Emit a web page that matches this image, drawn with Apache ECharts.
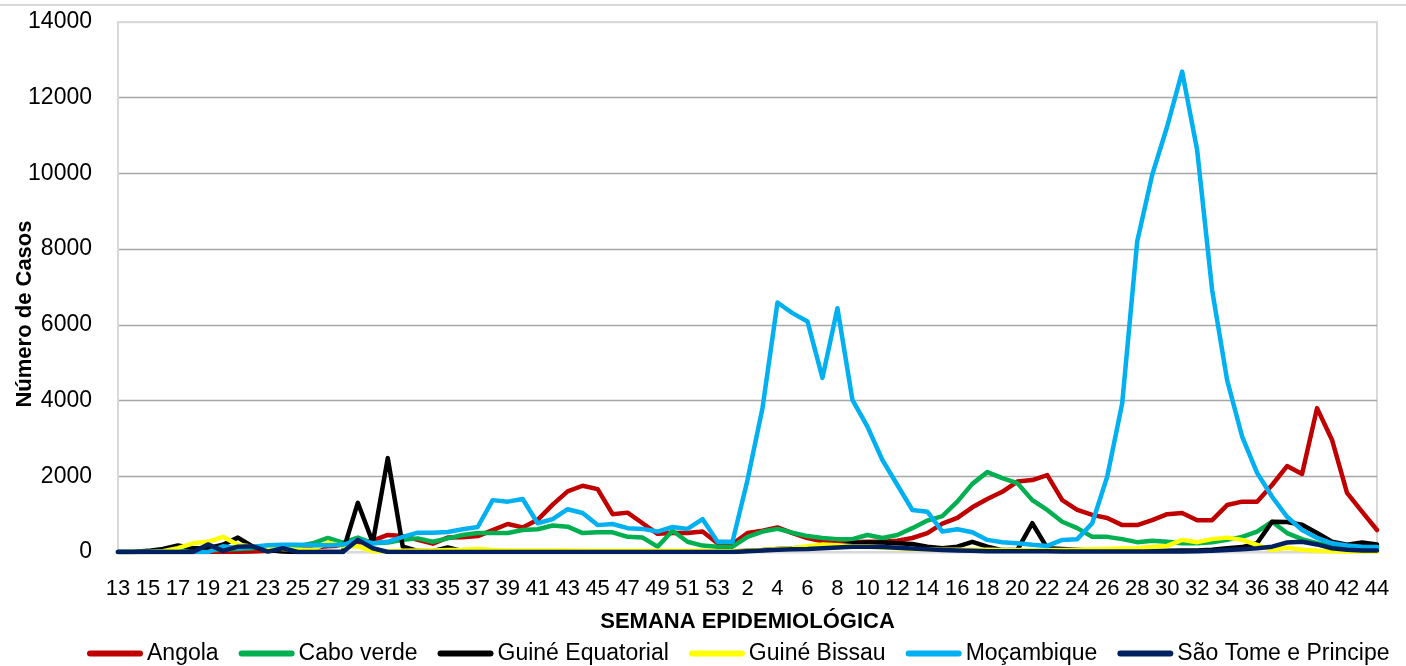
<!DOCTYPE html>
<html>
<head>
<meta charset="utf-8">
<script src="https://cdn.jsdelivr.net/npm/echarts@6/dist/echarts.min.js"></script>
<style>
html,body{margin:0;padding:0;background:#fff;}
#chart{width:1406px;height:666px;}
</style>
</head>
<body>
<div id="chart"></div>
<script>
const weeks2020 = ['13','14','15','16','17','18','19','20','21','22','23','24','25','26','27','28','29','30','31','32','33','34','35','36','37','38','39','40','41','42','43','44','45','46','47','48','49','50','51','52','53'];
const weeks2021 = ['1','2','3','4','5','6','7','8','9','10','11','12','13','14','15','16','17','18','19','20','21','22','23','24','25','26','27','28','29','30','31','32','33','34','35','36','37','38','39','40','41','42','43','44'];
const categories = weeks2020.concat(weeks2021);

const angola = [
  0,0,0,0,0,0,0,0,5,10,30,60,100,120,150,170,250,300,450,420,320,220,380,390,420,580,740,650,850,1250,1600,1750,1660,1000,1040,760,480,500,500,540,230,
  210,500,560,650,500,370,280,230,260,270,270,300,370,500,750,900,1180,1400,1590,1860,1900,2030,1370,1110,980,900,710,710,840,1000,1030,840,840,1240,1330,1330,1770,2270,2060,3800,2960,1560,1065,580
];
const caboVerde = [
  0,0,10,10,20,30,40,60,80,100,150,150,150,230,370,250,380,230,250,320,360,270,360,450,500,500,500,580,600,700,670,500,520,520,400,380,140,560,270,170,140,
  140,400,540,610,510,420,370,340,340,450,370,450,630,830,950,1330,1800,2110,1950,1820,1370,1110,800,630,400,400,340,260,300,270,230,230,260,320,400,540,800,500,340,230,160,120,100,80
];
const guineEquatorial = [
  0,0,30,80,170,100,100,190,380,140,50,10,0,0,0,0,1300,250,2480,140,30,20,120,20,20,10,10,10,10,10,10,10,10,10,10,10,10,10,10,10,10,
  10,30,50,80,100,120,130,150,230,250,250,230,210,140,100,140,270,140,50,50,760,100,80,60,40,30,30,30,30,30,40,40,60,100,130,230,800,790,720,500,270,190,250,200
];
const guineBissau = [
  0,0,0,20,100,230,270,400,190,140,100,80,60,60,250,150,150,20,20,30,40,40,50,60,80,50,40,40,40,40,40,30,30,30,30,30,30,30,30,30,20,
  20,30,50,80,100,150,200,180,150,150,120,100,80,70,60,60,60,60,50,50,50,50,50,60,70,80,90,100,130,160,320,260,340,380,320,190,50,110,60,30,20,10,10,10
];
const mocambique = [
  0,0,0,0,0,0,0,150,100,140,180,190,190,180,180,190,320,230,270,400,510,510,530,600,660,1370,1330,1400,760,870,1130,1030,710,740,630,610,540,660,610,870,270,
  270,1900,3800,6590,6310,6090,4600,6440,4020,3310,2430,1770,1110,1065,540,600,520,320,260,230,190,160,320,340,760,1990,3930,8200,9960,11240,12690,10620,6920,4540,3050,2090,1460,930,580,370,230,170,140,130
];
const saoTome = [
  0,0,0,0,0,0,200,30,140,150,10,100,0,0,0,0,320,100,0,0,0,0,0,0,0,0,0,0,0,0,0,0,0,0,0,0,0,0,0,0,0,
  0,20,40,60,70,80,100,120,140,140,130,110,90,70,50,40,30,20,20,20,20,20,10,10,10,10,10,10,10,10,10,20,30,50,70,100,140,250,270,200,100,60,40,40
];

const seriesNames = ['Angola','Cabo verde','Guiné Equatorial','Guiné Bissau','Moçambique','São Tome e Principe'];
const seriesData = [angola, caboVerde, guineEquatorial, guineBissau, mocambique, saoTome];
const seriesColors = ['#C00000','#00B050','#000000','#FFFF00','#00B0F0','#002060'];

const FONT = '"Liberation Sans", Arial, sans-serif';

const chart = echarts.init(document.getElementById('chart'), null, {renderer:'canvas'});
chart.setOption({
  animation: false,
  backgroundColor: '#ffffff',
  color: seriesColors,
  grid: {left:118, right:29, top:22, bottom:114, show:true, borderColor:'#d9d9d9', borderWidth:2, backgroundColor:'transparent'},
  legend: {
    left: 82, top: 637,
    itemWidth: 56, itemHeight: 6, itemGap: 20,
    icon: 'path://M3,0 L53,0 A3,3 0 0 1 53,6 L3,6 A3,3 0 0 1 3,0 Z',
    textStyle: {fontFamily: FONT, fontSize: 23, color: '#000', padding:[0,0,0,-1]},
    data: seriesNames
  },
  xAxis: {
    type: 'category',
    data: categories,
    boundaryGap: false,
    name: 'SEMANA EPIDEMIOLÓGICA',
    nameLocation: 'middle',
    nameGap: 59,
    nameTextStyle: {fontFamily: FONT, fontSize: 22, fontWeight: 'bold', color: '#000'},
    axisLine: {show:true, lineStyle:{color:'#d9d9d9', width:2}},
    axisTick: {show:false},
    axisLabel: {interval: 1, fontFamily: FONT, fontSize: 22, color: '#000', margin: 26},
    splitLine: {show:false}
  },
  yAxis: {
    type: 'value',
    min: 0, max: 14000, interval: 2000,
    axisLine: {show:true, lineStyle:{color:'#d9d9d9', width:2}},
    axisTick: {show:false},
    axisLabel: {fontFamily: FONT, fontSize: 23, color: '#000', margin: 26, formatter: v => String(v)},
    splitLine: {show:true, lineStyle:{color:['#a6a6a6','#a6a6a6','#a6a6a6','#a6a6a6','#a6a6a6','#a6a6a6','#a6a6a6','#d9d9d9'], width:1.3}}
  },
  graphic: [
    {type:'line', shape:{x1:0, y1:5, x2:1406, y2:5}, style:{stroke:'#d9d9d9', lineWidth:2}, silent:true},
    {type:'text', x:25, y:314, rotation: Math.PI/2,
     style:{text:'Número de Casos', font:'bold 22px ' + FONT, fill:'#000', textAlign:'center', textVerticalAlign:'middle'}}
  ],
  series: seriesNames.map((n, k) => ({
    name: n,
    type: 'line',
    data: seriesData[k],
    showSymbol: false,
    symbol: 'none',
    smooth: false,
    lineStyle: {width: 4.5, color: seriesColors[k], join: 'round', cap: 'round'},
    itemStyle: {color: seriesColors[k]},
    z: 2 + k
  }))
});
</script>
</body>
</html>
